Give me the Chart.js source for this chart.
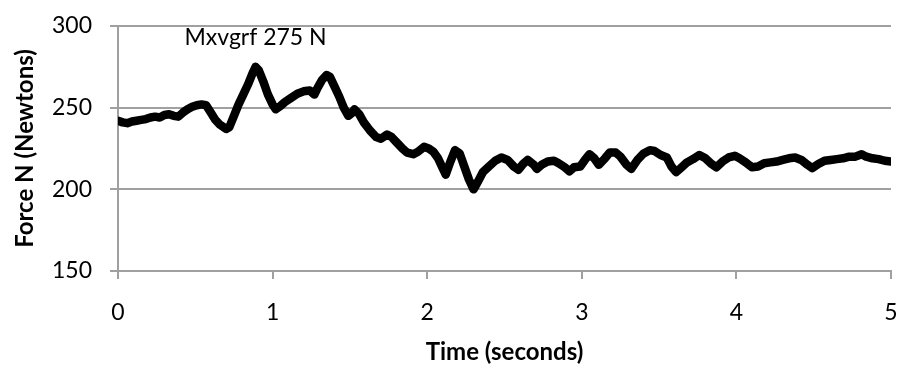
<!DOCTYPE html>
<html>
<head>
<meta charset="utf-8">
<script src="https://cdn.jsdelivr.net/npm/chart.js@4.4.1/dist/chart.umd.min.js"></script>
<style>
  html, body { margin: 0; padding: 0; background: #ffffff; }
  #wrap { width: 897px; height: 367px; }
</style>
</head>
<body>
<div id="wrap"><canvas id="force" width="897" height="367"></canvas></div>
<script>
// Force trace sampled over a five second recording
const timeSeconds = [
  0.00, 0.03, 0.06, 0.09, 0.12, 0.15, 0.18, 0.21, 0.24, 0.27,
  0.30, 0.33, 0.36, 0.39, 0.42, 0.45, 0.48, 0.51, 0.54, 0.57,
  0.60, 0.63, 0.66, 0.70, 0.72, 0.75, 0.78, 0.81, 0.84, 0.87,
  0.89, 0.91, 0.94, 0.97, 1.00, 1.02, 1.05, 1.08, 1.12, 1.16,
  1.20, 1.24, 1.27, 1.29, 1.32, 1.35, 1.37, 1.40, 1.43, 1.46,
  1.49, 1.51, 1.53, 1.56, 1.59, 1.63, 1.67, 1.70, 1.74, 1.77,
  1.80, 1.84, 1.87, 1.91, 1.94, 1.98, 2.01, 2.04, 2.07, 2.10,
  2.12, 2.15, 2.18, 2.21, 2.24, 2.27, 2.30, 2.33, 2.36, 2.40,
  2.44, 2.48, 2.52, 2.56, 2.59, 2.62, 2.65, 2.69, 2.71, 2.74,
  2.78, 2.82, 2.85, 2.89, 2.92, 2.95, 2.99, 3.02, 3.05, 3.08,
  3.11, 3.15, 3.18, 3.22, 3.25, 3.29, 3.32, 3.36, 3.40, 3.44,
  3.47, 3.51, 3.55, 3.58, 3.61, 3.64, 3.68, 3.72, 3.76, 3.80,
  3.84, 3.87, 3.91, 3.95, 3.99, 4.02, 4.06, 4.10, 4.14, 4.18,
  4.22, 4.26, 4.30, 4.34, 4.38, 4.42, 4.46, 4.49, 4.53, 4.57,
  4.61, 4.65, 4.69, 4.73, 4.77, 4.81, 4.84, 4.88, 4.92, 4.96,
  5.00
];

const forceNewtons = [
  242, 241, 240.5, 241.5, 242, 242.5, 243, 244, 244.5, 244,
  245.5, 246, 245, 244.5, 247, 249, 250.5, 251.5, 252, 251.5,
  247, 242.5, 239.5, 237, 238, 245, 252, 258, 264, 271,
  275, 273, 266, 258, 252, 249, 251, 253.5, 256, 258.5,
  260, 260.5, 258, 262, 267, 270, 269, 263, 257, 250,
  245, 246.5, 249, 246, 241, 236, 232, 231, 233.5, 232,
  229, 225, 222.5, 221.5, 223, 226, 225, 223, 219, 213,
  209, 217, 224, 222, 214, 206, 200, 205, 210.5, 214,
  217.5, 219.5, 218, 214, 212, 215.5, 218, 215, 212.5, 215,
  217, 217.5, 216, 213.5, 211, 213.5, 214, 218, 221.5, 219,
  215, 219, 222.5, 222.5, 220, 215, 212.5, 218, 222, 224,
  223.5, 221, 219.5, 214, 210.5, 213, 216.5, 218.5, 221, 219,
  215.5, 213.5, 217, 219.5, 220.5, 219, 216.5, 213.5, 214, 216,
  216.5, 217, 218, 219, 219.5, 218, 215, 213, 215.5, 217.5,
  218, 218.5, 219, 220, 220, 221.5, 220, 219, 218.5, 217.5,
  217
];

const xTickValues = [0, 1, 2, 3, 4, 5];
const yTickValues = [150, 200, 250, 300];

const xTitle = 'Time (seconds)';
const yTitle = 'Force N (Newtons)';
const peakPrefix = 'Mxvgrf';
const peakUnit = 'N';

const points = timeSeconds.map((t, i) => ({ x: t, y: forceNewtons[i] }));

// Locate the maximum so its label is drawn from the same value
let peakIndex = 0;
forceNewtons.forEach((v, i) => { if (v > forceNewtons[peakIndex]) peakIndex = i; });

const FONT = 'Lato, "Open Sans", "Liberation Sans", sans-serif';
const AXIS_GREY = '#a0a0a0';

// Tick label padding should not push the plot area inward
const clearScalePadding = s => {
  s.paddingLeft = 0; s.paddingRight = 0; s.paddingTop = 0; s.paddingBottom = 0;
};

const peakLabel = {
  id: 'peakLabel',
  afterDatasetsDraw(chart) {
    const { ctx, scales } = chart;
    const x = scales.x.getPixelForValue(timeSeconds[peakIndex]);
    const y = scales.y.getPixelForValue(forceNewtons[peakIndex]);
    ctx.save();
    ctx.font = '23px ' + FONT;
    ctx.fillStyle = '#000000';
    ctx.textAlign = 'center';
    ctx.textBaseline = 'alphabetic';
    ctx.fillText(peakPrefix + ' ' + forceNewtons[peakIndex] + ' ' + peakUnit, x, y - 22);
    ctx.restore();
  }
};

new Chart(document.getElementById('force'), {
  type: 'line',
  data: {
    datasets: [{
      data: points,
      borderColor: '#000000',
      backgroundColor: '#000000',
      borderWidth: 8.5,
      borderJoinStyle: 'round',
      borderCapStyle: 'round',
      pointRadius: 0,
      tension: 0,
      fill: false
    }]
  },
  options: {
    responsive: false,
    devicePixelRatio: 1,
    animation: false,
    layout: { padding: { left: 0, right: 6, top: 26, bottom: 0 } },
    plugins: { legend: { display: false }, tooltip: { enabled: false } },
    scales: {
      x: {
        type: 'linear',
        min: xTickValues[0],
        max: xTickValues[xTickValues.length - 1],
        afterBuildTicks: s => { s.ticks = xTickValues.map(v => ({ value: v })); },
        afterFit: s => { s.height = 96; clearScalePadding(s); },
        grid: { display: true, drawOnChartArea: false, drawTicks: true, tickLength: 8, color: AXIS_GREY, lineWidth: 2 },
        border: { display: true, color: AXIS_GREY, width: 2 },
        ticks: { color: '#000000', font: { family: FONT, size: 23 }, padding: 20, maxRotation: 0 },
        title: { display: true, text: xTitle, color: '#000000', font: { family: FONT, size: 24, weight: 'bold' }, padding: { top: 0, bottom: 0 } }
      },
      y: {
        type: 'linear',
        min: yTickValues[0],
        max: yTickValues[yTickValues.length - 1],
        afterBuildTicks: s => { s.ticks = yTickValues.map(v => ({ value: v })); },
        afterFit: s => { s.width = 118; clearScalePadding(s); },
        grid: { display: true, drawOnChartArea: true, drawTicks: true, tickLength: 8, color: AXIS_GREY, lineWidth: 2 },
        border: { display: true, color: AXIS_GREY, width: 2 },
        ticks: { color: '#000000', font: { family: FONT, size: 23 }, padding: 18 },
        title: { display: true, text: yTitle, color: '#000000', font: { family: FONT, size: 24, weight: 'bold' }, padding: { top: 10.6, bottom: 0 } }
      }
    }
  },
  plugins: [peakLabel]
});
</script>
</body>
</html>
